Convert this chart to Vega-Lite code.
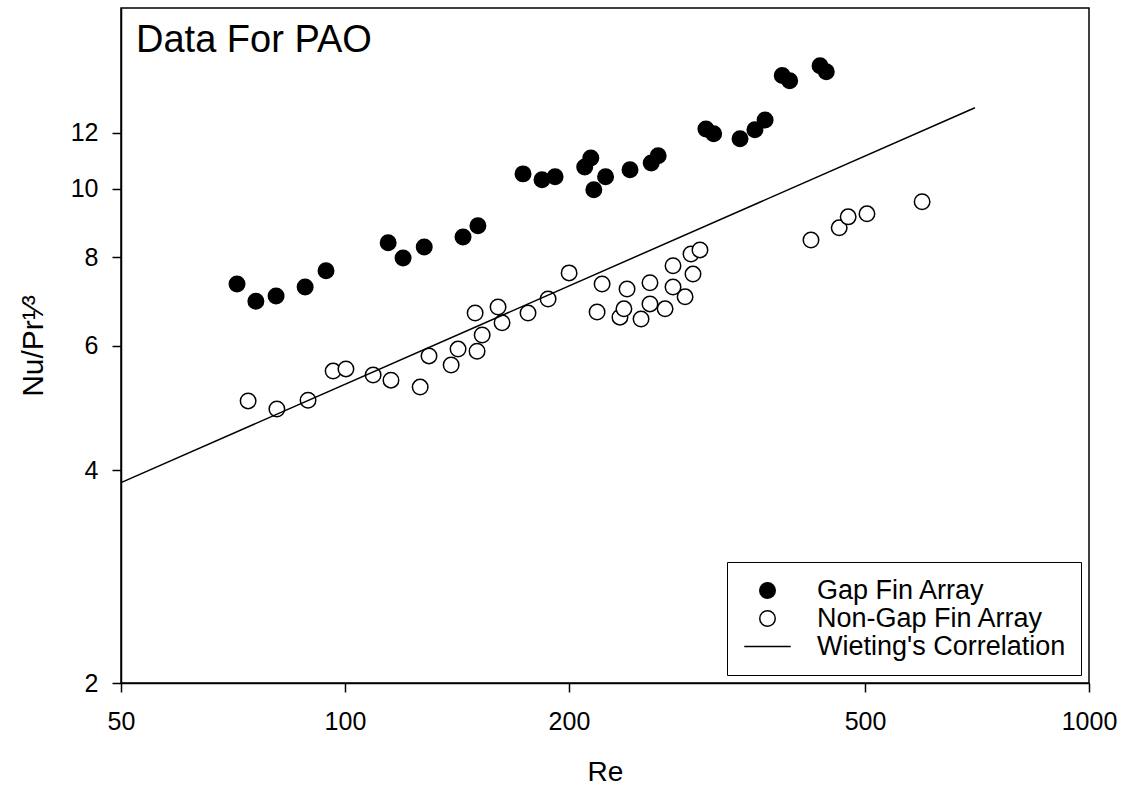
{
  "$schema": "https://vega.github.io/schema/vega-lite/v6.json",
  "width": 968,
  "height": 675,
  "autosize": {"type": "none"},
  "padding": {"left": 121, "top": 8, "right": 41, "bottom": 108},
  "background": "white",
  "title": {
    "text": "Data For PAO",
    "anchor": "start",
    "frame": "group",
    "orient": "top",
    "offset": 0,
    "dy": 82,
    "dx": 15,
    "fontSize": 38,
    "fontWeight": "normal",
    "color": "black",
    "baseline": "alphabetic",
    "font": "Liberation Sans"
  },
  "config": {
    "font": "Liberation Sans",
    "view": {"stroke": "black", "strokeWidth": 1.5},
    "axis": {
      "grid": false,
      "domainColor": "black",
      "domainWidth": 1.5,
      "tickColor": "black",
      "tickWidth": 1.5,
      "tickSize": 9,
      "labelFontSize": 25,
      "labelColor": "black",
      "labelFont": "Liberation Sans",
      "titleFont": "Liberation Sans",
      "titleFontSize": 28,
      "titleFontWeight": "normal",
      "titleColor": "black",
      "labelOverlap": false,
      "labelFlush": false
    },
    "legend": {
      "orient": "bottom-right",
      "offset": 8,
      "strokeColor": "black",
      "strokeWidth": 1,
      "fillColor": "white",
      "padding": 15,
      "labelFontSize": 27,
      "labelFont": "Liberation Sans",
      "labelColor": "black",
      "labelLimit": 500,
      "symbolSize": 240,
      "symbolStrokeWidth": 1.5,
      "symbolStrokeColor": "black",
      "symbolOffset": 12,
      "labelOffset": 36,
      "rowPadding": 0
    }
  },
  "datasets": {
    "pts": [
      {"Re": 71.6, "NuPr": 7.33, "series": "Gap Fin Array"},
      {"Re": 75.9, "NuPr": 6.93, "series": "Gap Fin Array"},
      {"Re": 80.8, "NuPr": 7.05, "series": "Gap Fin Array"},
      {"Re": 88.4, "NuPr": 7.26, "series": "Gap Fin Array"},
      {"Re": 94.3, "NuPr": 7.65, "series": "Gap Fin Array"},
      {"Re": 114.3, "NuPr": 8.38, "series": "Gap Fin Array"},
      {"Re": 119.7, "NuPr": 7.98, "series": "Gap Fin Array"},
      {"Re": 127.8, "NuPr": 8.27, "series": "Gap Fin Array"},
      {"Re": 144.1, "NuPr": 8.54, "series": "Gap Fin Array"},
      {"Re": 150.9, "NuPr": 8.86, "series": "Gap Fin Array"},
      {"Re": 173.5, "NuPr": 10.49, "series": "Gap Fin Array"},
      {"Re": 184.0, "NuPr": 10.29, "series": "Gap Fin Array"},
      {"Re": 191.6, "NuPr": 10.39, "series": "Gap Fin Array"},
      {"Re": 210.0, "NuPr": 10.73, "series": "Gap Fin Array"},
      {"Re": 214.0, "NuPr": 11.05, "series": "Gap Fin Array"},
      {"Re": 216.0, "NuPr": 9.96, "series": "Gap Fin Array"},
      {"Re": 224.0, "NuPr": 10.39, "series": "Gap Fin Array"},
      {"Re": 241.6, "NuPr": 10.63, "series": "Gap Fin Array"},
      {"Re": 258.0, "NuPr": 10.87, "series": "Gap Fin Array"},
      {"Re": 263.6, "NuPr": 11.13, "series": "Gap Fin Array"},
      {"Re": 305.6, "NuPr": 12.14, "series": "Gap Fin Array"},
      {"Re": 313.0, "NuPr": 11.95, "series": "Gap Fin Array"},
      {"Re": 339.6, "NuPr": 11.76, "series": "Gap Fin Array"},
      {"Re": 355.6, "NuPr": 12.11, "series": "Gap Fin Array"},
      {"Re": 367.0, "NuPr": 12.5, "series": "Gap Fin Array"},
      {"Re": 387.0, "NuPr": 14.45, "series": "Gap Fin Array"},
      {"Re": 396.0, "NuPr": 14.2, "series": "Gap Fin Array"},
      {"Re": 435.0, "NuPr": 14.91, "series": "Gap Fin Array"},
      {"Re": 443.5, "NuPr": 14.63, "series": "Gap Fin Array"},
      {"Re": 74.1, "NuPr": 5.01, "series": "Non-Gap Fin Array"},
      {"Re": 81.0, "NuPr": 4.88, "series": "Non-Gap Fin Array"},
      {"Re": 89.2, "NuPr": 5.02, "series": "Non-Gap Fin Array"},
      {"Re": 96.4, "NuPr": 5.52, "series": "Non-Gap Fin Array"},
      {"Re": 100.3, "NuPr": 5.56, "series": "Non-Gap Fin Array"},
      {"Re": 109.1, "NuPr": 5.45, "series": "Non-Gap Fin Array"},
      {"Re": 115.3, "NuPr": 5.36, "series": "Non-Gap Fin Array"},
      {"Re": 126.2, "NuPr": 5.24, "series": "Non-Gap Fin Array"},
      {"Re": 129.7, "NuPr": 5.8, "series": "Non-Gap Fin Array"},
      {"Re": 138.9, "NuPr": 5.63, "series": "Non-Gap Fin Array"},
      {"Re": 141.9, "NuPr": 5.93, "series": "Non-Gap Fin Array"},
      {"Re": 150.5, "NuPr": 5.89, "series": "Non-Gap Fin Array"},
      {"Re": 152.9, "NuPr": 6.21, "series": "Non-Gap Fin Array"},
      {"Re": 149.6, "NuPr": 6.67, "series": "Non-Gap Fin Array"},
      {"Re": 160.6, "NuPr": 6.8, "series": "Non-Gap Fin Array"},
      {"Re": 162.6, "NuPr": 6.46, "series": "Non-Gap Fin Array"},
      {"Re": 176.2, "NuPr": 6.67, "series": "Non-Gap Fin Array"},
      {"Re": 187.5, "NuPr": 6.98, "series": "Non-Gap Fin Array"},
      {"Re": 200.1, "NuPr": 7.6, "series": "Non-Gap Fin Array"},
      {"Re": 221.6, "NuPr": 7.33, "series": "Non-Gap Fin Array"},
      {"Re": 218.2, "NuPr": 6.69, "series": "Non-Gap Fin Array"},
      {"Re": 239.4, "NuPr": 7.21, "series": "Non-Gap Fin Array"},
      {"Re": 234.2, "NuPr": 6.58, "series": "Non-Gap Fin Array"},
      {"Re": 237.1, "NuPr": 6.76, "series": "Non-Gap Fin Array"},
      {"Re": 250.0, "NuPr": 6.54, "series": "Non-Gap Fin Array"},
      {"Re": 257.0, "NuPr": 7.36, "series": "Non-Gap Fin Array"},
      {"Re": 257.0, "NuPr": 6.87, "series": "Non-Gap Fin Array"},
      {"Re": 269.3, "NuPr": 6.76, "series": "Non-Gap Fin Array"},
      {"Re": 276.0, "NuPr": 7.78, "series": "Non-Gap Fin Array"},
      {"Re": 276.0, "NuPr": 7.26, "series": "Non-Gap Fin Array"},
      {"Re": 286.5, "NuPr": 7.03, "series": "Non-Gap Fin Array"},
      {"Re": 293.6, "NuPr": 7.57, "series": "Non-Gap Fin Array"},
      {"Re": 291.8, "NuPr": 8.08, "series": "Non-Gap Fin Array"},
      {"Re": 300.0, "NuPr": 8.19, "series": "Non-Gap Fin Array"},
      {"Re": 423.0, "NuPr": 8.46, "series": "Non-Gap Fin Array"},
      {"Re": 461.6, "NuPr": 8.8, "series": "Non-Gap Fin Array"},
      {"Re": 474.6, "NuPr": 9.12, "series": "Non-Gap Fin Array"},
      {"Re": 503.0, "NuPr": 9.21, "series": "Non-Gap Fin Array"},
      {"Re": 596.6, "NuPr": 9.58, "series": "Non-Gap Fin Array"}
    ],
    "corr": [
      {"Re": 50, "NuPr": 3.84, "series": "Wieting's Correlation"},
      {"Re": 702.6, "NuPr": 13.01, "series": "Wieting's Correlation"}
    ]
  },
  "layer": [
    {
      "data": {"name": "pts"},
      "mark": {"type": "point", "filled": true, "strokeWidth": 1.5, "size": 240, "opacity": 1},
      "encoding": {
        "x": {
          "field": "Re", "type": "quantitative",
          "scale": {"type": "log", "domain": [50, 1000], "nice": false},
          "axis": {"values": [50, 100, 200, 500, 1000], "format": "d", "title": "Re", "labelPadding": 17, "titlePadding": 24}
        },
        "y": {
          "field": "NuPr", "type": "quantitative",
          "scale": {"type": "log", "domain": [2, 18], "nice": false},
          "axis": {"values": [2, 4, 6, 8, 10, 12], "format": "d", "title": "Nu/Pr¹⁄³", "labelPadding": 14, "titlePadding": 22, "titleFontSize": 30}
        },
        "fill": {
          "field": "series", "type": "nominal",
          "scale": {"domain": ["Gap Fin Array", "Non-Gap Fin Array", "Wieting's Correlation"], "range": ["black", "white", "transparent"]},
          "legend": {"title": null}
        },
        "stroke": {
          "field": "series", "type": "nominal",
          "scale": {"domain": ["Gap Fin Array", "Non-Gap Fin Array", "Wieting's Correlation"], "range": ["black", "black", "black"]},
          "legend": {"title": null}
        },
        "shape": {
          "field": "series", "type": "nominal",
          "scale": {"domain": ["Gap Fin Array", "Non-Gap Fin Array", "Wieting's Correlation"], "range": ["circle", "circle", "M-3,0H3"]},
          "legend": {"title": null}
        }
      }
    },
    {
      "data": {"name": "corr"},
      "mark": {"type": "line", "color": "black", "strokeWidth": 1.5},
      "encoding": {
        "x": {"field": "Re", "type": "quantitative"},
        "y": {"field": "NuPr", "type": "quantitative"}
      }
    }
  ]
}
